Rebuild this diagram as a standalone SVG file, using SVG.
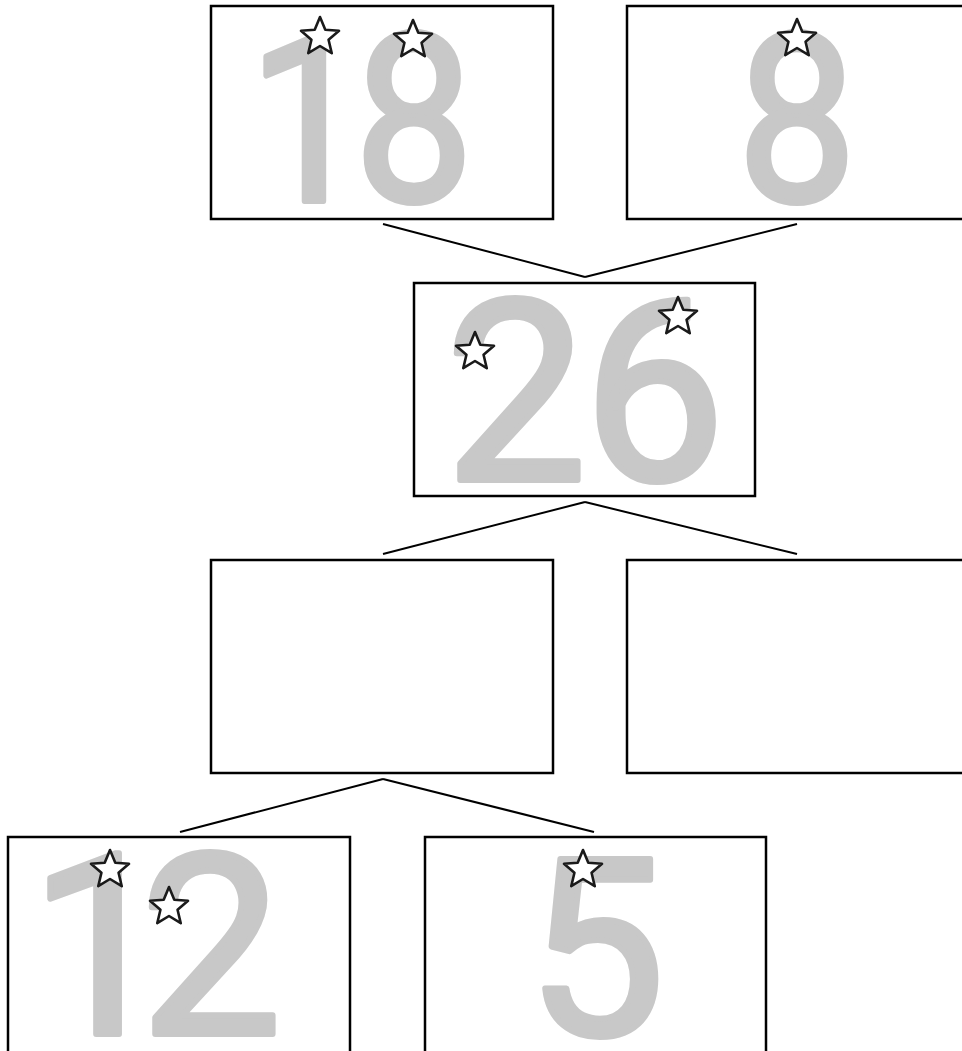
<svg xmlns="http://www.w3.org/2000/svg" xmlns:xlink="http://www.w3.org/1999/xlink" width="962" height="1051" viewBox="0 0 962 1051">
<style>
.box{fill:#fff;stroke:#000;stroke-width:2.5}
.num{font-family:Roboto,"Liberation Sans",sans-serif;font-weight:400;fill:#c8c8c8;stroke:#c8c8c8;stroke-width:6;stroke-linejoin:round;text-anchor:middle}
.edge{stroke:#000;stroke-width:2;fill:none}
.star{fill:#fff;stroke:#1a1a1a;stroke-width:2.6;stroke-linejoin:round}
</style>
<defs>
<path id="star" class="star" d="M0,-20 L5.29,-7.28 L19.02,-6.18 L8.56,2.78 L11.76,16.18 L0,9 L-11.76,16.18 L-8.56,2.78 L-19.02,-6.18 L-5.29,-7.28 Z"/>
</defs>
<rect width="962" height="1051" fill="#fff"/>
<g id="connectors">
<line class="edge" x1="383" y1="224" x2="585" y2="277"/>
<line class="edge" x1="797" y1="224" x2="585" y2="277"/>
<line class="edge" x1="585" y1="502" x2="383" y2="554"/>
<line class="edge" x1="585" y1="502" x2="797" y2="554"/>
<line class="edge" x1="383" y1="779" x2="180" y2="832"/>
<line class="edge" x1="383" y1="779" x2="594" y2="832"/>
</g>
<g id="node-18">
<rect class="box" x="211" y="6" width="342" height="213"/>
<text class="num" x="296 414" y="201" font-size="234" transform="translate(414,0) scale(0.9,1) translate(-414,0)">18</text>
<use xlink:href="#star" x="320" y="37"/>
<use xlink:href="#star" x="413" y="40"/>
</g>
<g id="node-8">
<rect class="box" x="627" y="6" width="345" height="213"/>
<text class="num" x="797" y="201" font-size="234" transform="translate(797,0) scale(0.9,1) translate(-797,0)">8</text>
<use xlink:href="#star" x="797" y="39"/>
</g>
<g id="node-26">
<rect class="box" x="414" y="283" width="341" height="213"/>
<text class="num" x="516 654" y="480" font-size="252">26</text>
<use xlink:href="#star" x="475" y="352"/>
<use xlink:href="#star" x="678" y="317"/>
</g>
<g id="node-blank-left">
<rect class="box" x="211" y="560" width="342" height="213"/>
</g>
<g id="node-blank-right">
<rect class="box" x="627" y="560" width="345" height="213"/>
</g>
<g id="node-12">
<rect class="box" x="8" y="837" width="342" height="220"/>
<text class="num" x="100 211" y="1034" font-size="252">12</text>
<use xlink:href="#star" x="110" y="870"/>
<use xlink:href="#star" x="169" y="907"/>
</g>
<g id="node-5">
<rect class="box" x="425" y="837" width="341" height="220"/>
<text class="num" x="596" y="1035" font-size="246">5</text>
<use xlink:href="#star" x="583" y="870"/>
</g>
</svg>
